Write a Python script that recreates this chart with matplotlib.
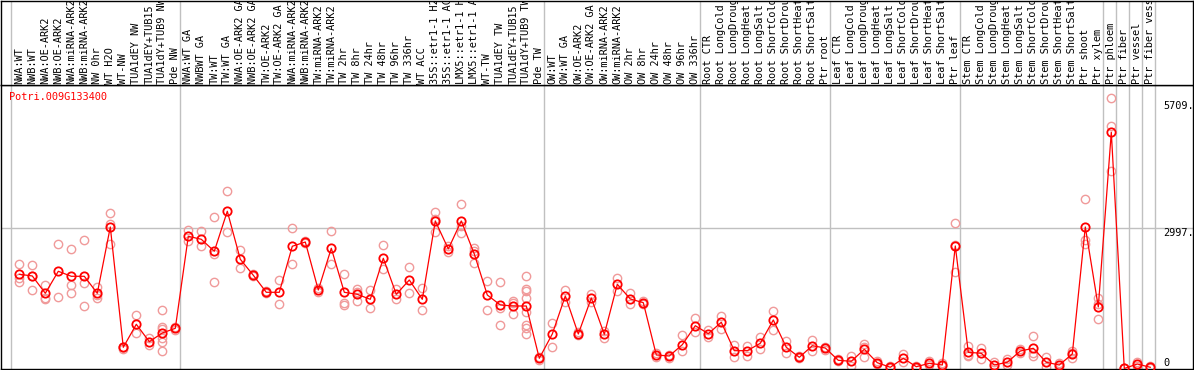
import matplotlib
matplotlib.use('Agg')
import matplotlib.pyplot as plt

# ---------------- data ----------------
title = "Potri.009G133400"

labels = ["NWA:WT", "NWB:WT", "NWA:OE-ARK2", "NWB:OE-ARK2", "NWA:miRNA-ARK2", "NWB:miRNA-ARK2",
          "NW 0hr", "WT H2O", "WT-NW", "TUA1dEY NW", "TUA1dEY+TUB15", "TUA1dY+TUB9 NW", "Pde NW",
          "NWA:WT GA", "NWBWT GA", "TW:WT", "TW:WT GA", "NWA:OE-ARK2 GA", "NWB:OE-ARK2 GA",
          "TW:OE-ARK2", "TW:OE-ARK2 GA", "NWA:miRNA-ARK2", "NWB:miRNA-ARK2", "TW:miRNA-ARK2",
          "TW:miRNA-ARK2", "TW 2hr", "TW 8hr", "TW 24hr", "TW 48hr", "TW 96hr", "TW 336hr", "WT ACC",
          "35S::etr1-1 H2", "35S::etr1-1 AC", "LMX5::etr1-1 H", "LMX5::etr1-1 A", "WT-TW",
          "TUA1dEY TW", "TUA1dEY+TUB15", "TUA1dY+TUB9 TW", "Pde TW",
          "OW:WT", "OW:WT GA", "OW:OE-ARK2", "OW:OE-ARK2 GA", "OW:miRNA-ARK2", "OW:miRNA-ARK2",
          "OW 2hr", "OW 8hr", "OW 24hr", "OW 48hr", "OW 96hr", "OW 336hr",
          "Root CTR", "Root LongCold", "Root LongDroug", "Root LongHeat", "Root LongSalt",
          "Root ShortCold", "Root ShortDrou", "Root ShortHeat", "Root ShortSalt", "Ptr root",
          "Leaf CTR", "Leaf LongCold", "Leaf LongDroug", "Leaf LongHeat", "Leaf LongSalt",
          "Leaf ShortCold", "Leaf ShortDrou", "Leaf ShortHeat", "Leaf ShortSalt", "Ptr leaf",
          "Stem CTR", "Stem LongCold", "Stem LongDroug", "Stem LongHeat", "Stem LongSalt",
          "Stem ShortCold", "Stem ShortDrou", "Stem ShortHeat", "Stem ShortSalt", "Ptr shoot",
          "Ptr xylem", "Ptr phloem", "Ptr fiber", "Ptr vessel", "Ptr fiber vess"]

means = [2014, 1978, 1608, 2078, 1971, 1971, 1608, 3025, 453, 945, 573, 759, 859,
         2826, 2762, 2506, 3361, 2335, 1993, 1629, 1629, 2613, 2704, 1678, 2570, 1629, 1586,
         1479, 2356, 1586, 1892, 1479, 3154, 2555, 3154, 2448, 1571, 1358, 1336, 1336, 218,
         738, 1550, 738, 1507, 731, 1800, 1486, 1407, 289, 267, 509, 915,
         744, 988, 381, 381, 539, 1037, 453, 239, 487, 438,
         175, 154, 410, 124, 26, 218, 38, 111, 75, 2619,
         346, 325, 75, 133, 374, 432, 133, 75, 310, 3025, 1315,
         5050, 0, 96, 26]

replicates = [
    [2234, 1928, 1856], [2206, 1978, 1672], [1779, 1479, 1514], [2662, 1529],
    [2555, 1779, 1608], [2747, 1822, 1336], [1736, 1514, 1571], [3325, 3089, 2662],
    [466, 410, 470], [1144, 753], [646, 502], [1251, 894, 838, 646, 573, 381], [887, 830],
    [2955, 2726], [2933, 2613], [3239, 2448, 1849], [3788, 2912], [2527, 2142], [2014, 1971],
    [1646, 1614], [1892, 1373], [2997, 2228], [2732, 2677], [1715, 1642], [2940, 2234],
    [2014, 1407, 1358], [1700, 1636, 1443], [1678, 1287], [2640, 2121], [1700, 1479],
    [2164, 1608], [1727, 1251], [3346, 3196, 2912], [2497, 2613], [3517, 2891, 3047],
    [2583, 2249, 2512], [1871, 1251], [1849, 1287, 930], [1443, 1165, 1400],
    [1971, 1693, 1657, 1501, 1214, 930, 872, 738], [246, 192],
    [966, 466], [1678, 1428], [770, 706], [1586, 1428], [658, 802], [1941, 1657],
    [1608, 1373], [1443, 1373], [253, 325], [299, 235], [710, 374], [1073, 774],
    [667, 823], [1129, 851], [252, 509], [274, 487], [667, 417], [1229, 823], [594, 325],
    [267, 214], [609, 374], [470, 406],
    [203, 150], [267, 53], [517, 246, 466], [150, 96], [43, 11], [310, 133], [64, 11],
    [150, 75], [107, 43], [3104, 2640, 2057],
    [487, 267, 289], [432, 210], [139, 11], [197, 68], [325, 423], [695, 267, 331],
    [239, 26], [118, 32], [381, 218, 331], [3624, 2747, 2662], [1501, 1058, 1385],
    [5777, 5185, 4229], [0, 0], [139, 53], [43, 11]]

group_starts = [0, 13, 41, 53, 63, 73, 84, 85, 86, 87, 88]
ytick_values = [5709, 2997, 0]
ytick_labels = ["5709.", "2997.", "0"]

# ---------------- layout ----------------
W, H = 1194, 370
fig = plt.figure(figsize=(W / 100, H / 100), dpi=100)
FONT = dict(family="DejaVu Sans Mono", size=7.4)
GRID = "#C0C0C0"

x0 = (1 - 19.3) / 13.0
x1 = (1193 - 19.3) / 13.0

ax = fig.add_axes([1 / W, 1 / H, 1192 / W, 284 / H])
axt = fig.add_axes([1 / W, 285 / H, 1192 / W, 84.5 / H])

for a in (ax, axt):
    a.set_xlim(x0, x1)
    a.set_xticks([])
    a.set_yticks([])
    for s in a.spines.values():
        s.set_color("black")
        s.set_linewidth(1.0)
    for g in group_starts:
        a.axvline(g - 0.615, color=GRID, lw=1.0, zorder=0)

ax.set_ylim(-10.7, 6060)
axt.set_ylim(0, 85)

ax.axhline(ytick_values[1], color=GRID, lw=1.0, zorder=0)

xs = list(range(len(means)))

# replicate points
for i, reps in enumerate(replicates):
    ax.plot([i] * len(reps), reps, linestyle="none", marker="o", mfc="none",
            mec="#F09A9A", ms=6, mew=1.0, zorder=2)

# mean line
ax.plot(xs, means, color="red", lw=0.9, marker="o", mfc="none", mec="red",
        ms=6, mew=1.3, zorder=3)

# category labels
for i, lab in enumerate(labels):
    axt.text(i, 1.5, lab, rotation=90, ha="center", va="bottom", color="black",
             clip_on=True, **FONT)

# title
fig.text(9 / W, 1 - 97 / H, title, color="red", ha="left", va="center", **FONT)

# y labels
ytr = ax.get_yaxis_transform()
xl = (1163 - 1) / 1192
ax.text(xl, ytick_values[0], ytick_labels[0], transform=ytr, ha="left", va="top",
        clip_on=False, **FONT)
ax.text(xl, ytick_values[1], ytick_labels[1], transform=ytr, ha="left", va="top",
        clip_on=False, **FONT)
ax.text(xl, ytick_values[2] + 20, ytick_labels[2], transform=ytr, ha="left", va="bottom",
        clip_on=False, **FONT)

fig.savefig("out.png", dpi=100, facecolor="white")
